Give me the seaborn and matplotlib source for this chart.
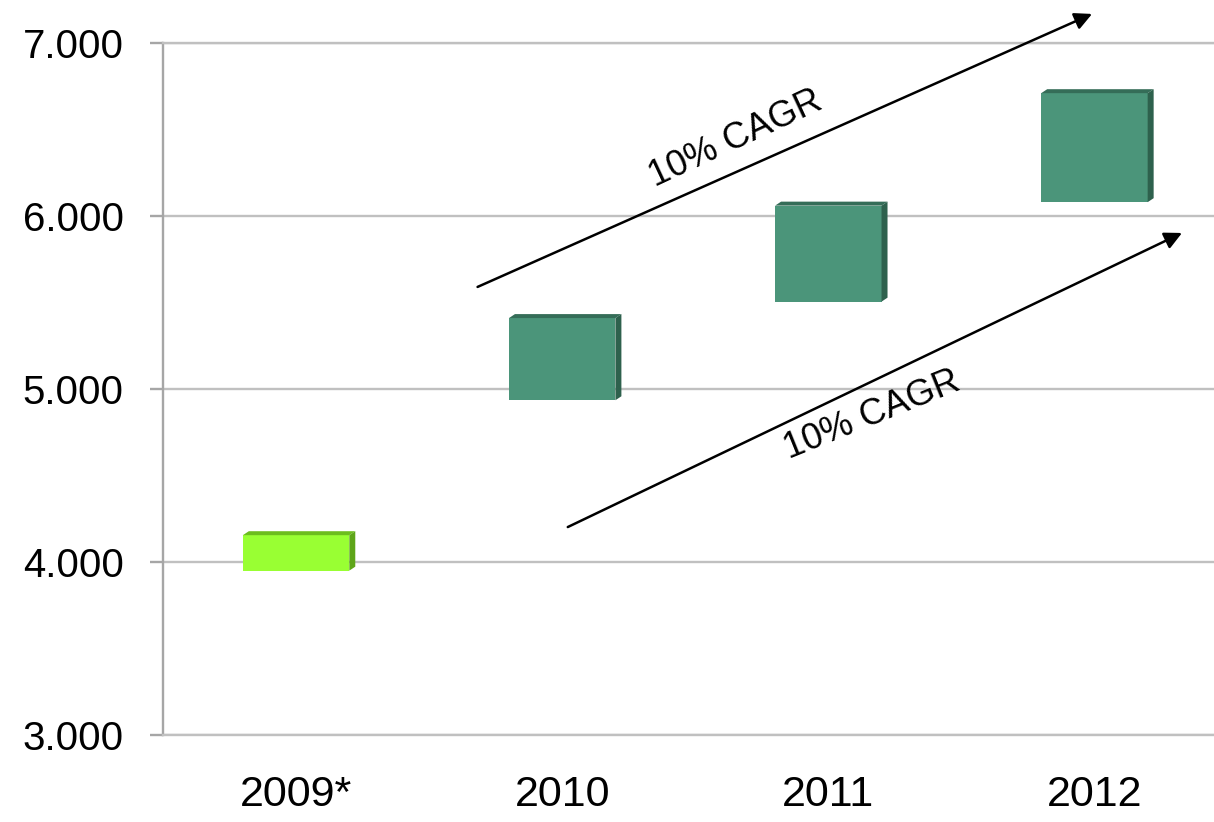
import matplotlib
matplotlib.use("Agg")
import matplotlib.pyplot as plt
import seaborn as sns

# data (floating range bars)
years = ["2009*", "2010", "2011", "2012"]
lows = [3950, 4935, 5505, 6080]
highs = [4155, 5410, 6060, 6710]
heights = [h - l for h, l in zip(highs, lows)]
y_ticks = [3000, 4000, 5000, 6000, 7000]
y_ticklabels = ["3.000", "4.000", "5.000", "6.000", "7.000"]
cagr_label = "10% CAGR"

front = ["#99ff33", "#4b957a", "#4b957a", "#4b957a"]
top_c = ["#6cbd1e", "#356d58", "#356d58", "#356d58"]
side_c = ["#5ea519", "#2e614d", "#2e614d", "#2e614d"]
grid_c = "#c0c0c0"

sns.set_style("white")
plt.rcParams["font.family"] = ["Liberation Sans", "DejaVu Sans"]
plt.rcParams["text.color"] = "black"

fig = plt.figure(figsize=(12.14, 8.22), dpi=100)
ax = fig.add_axes([163 / 1214, 87 / 822, 1064.5 / 1214, 692 / 822])

sns.barplot(x=years, y=heights, bottom=lows, width=0.4, errorbar=None,
            color=front[1], ax=ax, zorder=3, linewidth=0)

# colour each bar and add the small 3D top / side faces
dx, dy = 0.0225, 23
for p, fc, tc, sc in zip(ax.patches, front, top_c, side_c):
    p.set_facecolor(fc)
    p.set_edgecolor("none")
    x0, w = p.get_x(), p.get_width()
    y0, h = p.get_y(), p.get_height()
    x1, y1 = x0 + w, y0 + h
    ax.fill([x0, x0 + dx, x1 + dx, x1], [y1, y1 + dy, y1 + dy, y1],
            color=tc, zorder=3, lw=0)
    ax.fill([x1, x1 + dx, x1 + dx, x1], [y0, y0 + dy, y1 + dy, y1],
            color=sc, zorder=3, lw=0)

ax.set_xlim(-0.5, 3.5)
ax.set_ylim(3000, 7000)
ax.set_yticks(y_ticks)
ax.set_yticklabels(y_ticklabels)
ax.yaxis.grid(True, color=grid_c, lw=1.7, zorder=0)
ax.set_axisbelow(True)

for s in ["top", "bottom"]:
    ax.spines[s].set_color(grid_c)
    ax.spines[s].set_linewidth(1.7)
ax.spines["right"].set_visible(False)
ax.spines["left"].set_color("#a6a6a6")
ax.spines["left"].set_linewidth(1.7)

ax.tick_params(axis="y", left=True, length=9.4, width=1.7, color="#a6a6a6",
               pad=19, labelsize=29, labelcolor="black")
ax.tick_params(axis="x", bottom=False, length=0, pad=29, labelsize=31,
               labelcolor="black")
ax.set_xlabel("")
ax.set_ylabel("")

# CAGR arrows
arrow_kw = dict(arrowstyle="-|>", mutation_scale=26, lw=1.8, color="black",
                shrinkA=0, shrinkB=0)
ax.annotate("", xy=(2.991, 7168), xytext=(0.682, 5590),
            arrowprops=arrow_kw, annotation_clip=False)
ax.annotate("", xy=(3.329, 5902), xytext=(1.021, 4202),
            arrowprops=arrow_kw, annotation_clip=False)

ax.text(1.652, 6445, cagr_label, rotation=25, fontsize=26, ha="center",
        va="center", rotation_mode="anchor", color="black")
ax.text(2.164, 4850, cagr_label, rotation=22, fontsize=26, ha="center",
        va="center", rotation_mode="anchor", color="black")

fig.savefig("out.png", dpi=100)
